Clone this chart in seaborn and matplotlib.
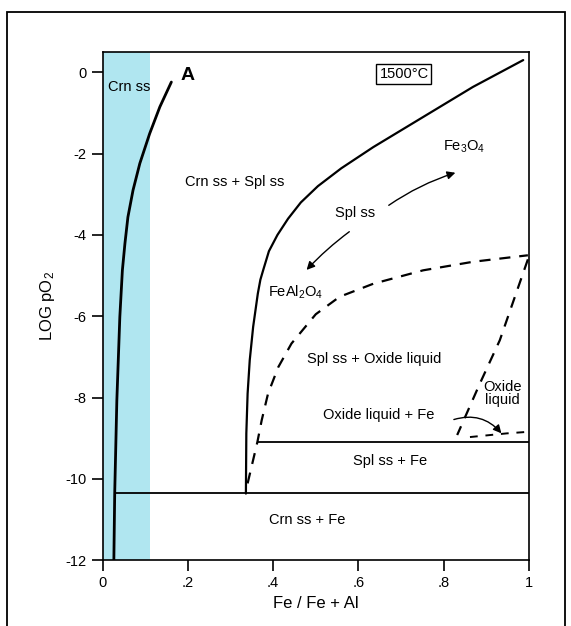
import matplotlib
matplotlib.use("Agg")
import matplotlib.pyplot as plt
import seaborn as sns
import pandas as pd
from matplotlib.patches import Rectangle

# Datos leídos del diagrama
# Curva A (límite Crn ss)
curve_a_x = [0.026, 0.028, 0.033, 0.040, 0.046, 0.052, 0.059, 0.071, 0.087, 0.110, 0.134, 0.161]
curve_a_y = [-12.0, -10.35, -8.07, -6.02, -4.87, -4.21, -3.56, -2.90, -2.24, -1.51, -0.85, -0.24]

# Límite Spl ss (línea continua)
spl_x = [0.336, 0.337, 0.340, 0.345, 0.353, 0.364, 0.370, 0.377, 0.390, 0.410, 0.435,
         0.465, 0.505, 0.560, 0.635, 0.752, 0.869, 0.987]
spl_y = [-10.36, -8.88, -7.90, -7.08, -6.26, -5.44, -5.10, -4.85, -4.40, -4.00, -3.60,
         -3.20, -2.80, -2.36, -1.84, -1.10, -0.36, 0.30]

# Límite líquido (discontinua)
liq_x = [0.340, 0.349, 0.363, 0.373, 0.388, 0.412, 0.443, 0.500, 0.556, 0.635, 0.752, 0.869, 0.998]
liq_y = [-10.11, -9.71, -9.09, -8.56, -7.90, -7.25, -6.67, -5.95, -5.52, -5.20, -4.87, -4.66, -4.50]

# Segunda discontinua (Oxide liquid)
liq2_x = [0.998, 0.932, 0.885, 0.832]
liq2_y = [-4.60, -6.59, -7.66, -8.92]

# Tercera discontinua (abajo a la derecha)
liq3_x = [0.862, 0.948, 1.0]
liq3_y = [-8.97, -8.88, -8.84]

# Líneas horizontales
fe_line_x = [0.028, 1.0]
fe_line_y = [-10.35, -10.35]
splfe_line_x = [0.365, 1.0]
splfe_line_y = [-9.09, -9.09]

# Ticks
xticks = [0, 0.2, 0.4, 0.6, 0.8, 1.0]
xtick_labels = ["0", ".2", ".4", ".6", ".8", "1"]
yticks = [0, -2, -4, -6, -8, -10, -12]
ytick_labels = ["0", "-2", "-4", "-6", "-8", "-10", "-12"]

sns.set_style("ticks")
plt.rcParams['font.family'] = ['Liberation Sans', 'DejaVu Sans']
plt.rcParams['text.color'] = 'black'
plt.rcParams['axes.labelcolor'] = 'black'
plt.rcParams['mathtext.fontset'] = 'custom'
plt.rcParams['mathtext.rm'] = 'Liberation Sans'
plt.rcParams['mathtext.it'] = 'Liberation Sans'
plt.rcParams['mathtext.bf'] = 'Liberation Sans:bold'

fig = plt.figure(figsize=(5.71, 6.26), dpi=100)
ax = fig.add_axes([0.180, 0.105, 0.746, 0.812])

# Banda azul
ax.axvspan(0, 0.11, color="#b0e6f0", lw=0, zorder=0)

def draw(x, y, ls="-", lw=1.6):
    d = pd.DataFrame({"x": x, "y": y})
    sns.lineplot(data=d, x="x", y="y", sort=False, estimator=None, color="black",
                 lw=lw, linestyle=ls, ax=ax, solid_joinstyle="round",
                 dash_joinstyle="round")

draw(curve_a_x, curve_a_y, lw=2.0)
draw(spl_x, spl_y, lw=1.6)
draw(liq_x, liq_y, ls=(0, (5, 4)), lw=1.6)
draw(liq2_x, liq2_y, ls=(0, (5, 4)), lw=1.6)
draw(liq3_x, liq3_y, ls=(0, (4, 4)), lw=1.4)
draw(fe_line_x, fe_line_y, lw=1.3)
draw(splfe_line_x, splfe_line_y, lw=1.3)

ax.set_xlim(0, 1)
ax.set_ylim(-12, 0.5)
ax.set_xticks(xticks)
ax.set_xticklabels(xtick_labels)
ax.set_yticks(yticks)
ax.set_yticklabels(ytick_labels)
ax.tick_params(direction="out", length=8, width=1.2, labelsize=10.5, colors="black")
for s in ax.spines.values():
    s.set_linewidth(1.2)
    s.set_color("black")
ax.set_xlabel("Fe / Fe + Al", fontsize=12)
ax.set_ylabel("LOG pO$_2$", fontsize=12, labelpad=6)

# Etiquetas
txt = dict(fontsize=10.5, ha="center", va="center")
ax.text(0.063, -0.37, "Crn ss", **txt)
ax.text(0.20, -0.07, "A", fontsize=14, fontweight="bold", ha="center", va="center")
ax.text(0.31, -2.7, "Crn ss + Spl ss", **txt)
ax.text(0.707, -0.05, "1500°C", fontsize=10.5, ha="center", va="center",
        bbox=dict(boxstyle="square,pad=0.2", fc="white", ec="black", lw=1))
ax.text(0.848, -1.84, "Fe$_3$O$_4$", **txt)
ax.text(0.592, -3.47, "Spl ss", **txt)
ax.text(0.388, -5.41, "FeAl$_2$O$_4$", fontsize=10.5, ha="left", va="center")
ax.text(0.638, -7.04, "Spl ss + Oxide liquid", **txt)
ax.text(0.938, -7.9, "Oxide\nliquid", fontsize=10.5, ha="center", va="center", linespacing=0.9)
ax.text(0.648, -8.43, "Oxide liquid + Fe", **txt)
ax.text(0.674, -9.55, "Spl ss + Fe", **txt)
ax.text(0.479, -11.0, "Crn ss + Fe", **txt)

# Flechas
arrow = dict(arrowstyle="-|>", color="black", lw=1.0, mutation_scale=12)
ax.annotate("", xy=(0.834, -2.45), xytext=(0.666, -3.31),
            arrowprops=dict(connectionstyle="arc3,rad=-0.08", **arrow))
ax.annotate("", xy=(0.474, -4.91), xytext=(0.584, -3.88),
            arrowprops=dict(connectionstyle="arc3,rad=0.05", **arrow))
ax.annotate("", xy=(0.94, -8.93), xytext=(0.818, -8.56),
            arrowprops=dict(connectionstyle="arc3,rad=-0.35", **arrow))

# Marco exterior
fig.patches.append(Rectangle((0.013, -0.05), 0.977, 1.031, transform=fig.transFigure,
                             fill=False, ec="black", lw=1.3))

fig.savefig("out.png", dpi=100)
